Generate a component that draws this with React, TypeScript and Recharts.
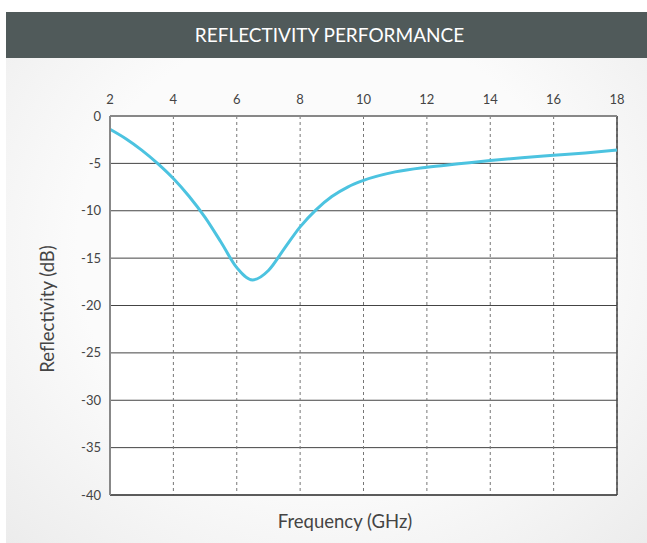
/**
 * Reflectivity performance — reflectivity (dB) against frequency (GHz).
 */

import { LineChart, Line, XAxis, YAxis, CartesianGrid, ReferenceLine } from "recharts";

const freq = [2, 2.5, 3, 3.5, 4, 4.5, 5, 5.5, 6, 6.5, 7, 7.5, 8, 8.5, 9, 9.5, 10, 11, 12, 13, 14, 15, 16, 17, 18];
const reflectivity = [
  -1.4, -2.4, -3.6, -5.0, -6.6, -8.5, -10.7, -13.3, -16.0, -17.3, -16.3, -14.0, -11.7, -9.9, -8.5, -7.5, -6.8,
  -5.9, -5.4, -5.05, -4.7, -4.4, -4.15, -3.9, -3.6,
];
const xTicks = [2, 4, 6, 8, 10, 12, 14, 16, 18];
const yTicks = [0, -5, -10, -15, -20, -25, -30, -35, -40];

const data = freq.map((f, i) => ({ f, r: reflectivity[i] }));

const font = "Lato, 'Open Sans', sans-serif";

export default function App() {
  return (
    <div style={{ position: "absolute", left: 0, top: 0, width: 647, height: 543, background: "#fff", fontFamily: font }}>
      <div
        style={{
          position: "absolute",
          left: 6,
          top: 12,
          width: 641,
          height: 531,
          background: "radial-gradient(ellipse at 50% 45%, #fbfbfb 55%, #ececec 100%)",
        }}
      />
      <div
        style={{
          position: "absolute",
          left: 6,
          top: 12,
          width: 647,
          height: 46,
          background: "#505a5a",
          color: "#fff",
          fontSize: 19,
          lineHeight: "46px",
          textAlign: "center",
        }}
      >
        REFLECTIVITY PERFORMANCE
      </div>
      <div style={{ position: "absolute", left: 0, top: 0 }}>
        <LineChart width={647} height={543} data={data} margin={{ top: 86, right: 30, bottom: 48, left: 70 }}>
          <CartesianGrid vertical={false} stroke="#444" strokeWidth={1} fill="#fff" />
          <CartesianGrid horizontal={false} stroke="#777" strokeDasharray="3 3" />
          <XAxis
            dataKey="f"
            type="number"
            orientation="top"
            domain={[2, 18]}
            ticks={xTicks}
            height={30}
            tickLine={false}
            axisLine={{ stroke: "#888", strokeWidth: 2 }}
            tick={{ fill: "#444", fontSize: 13, fontFamily: font }}
            tickMargin={6}
          />
          <YAxis
            type="number"
            domain={[-40, 0]}
            ticks={yTicks}
            width={40}
            tickLine={false}
            axisLine={{ stroke: "#888", strokeWidth: 2 }}
            tick={{ fill: "#444", fontSize: 13, fontFamily: font }}
            tickMargin={3}
          />
          <ReferenceLine x={18} stroke="#444" strokeWidth={1.5} />
          <ReferenceLine y={-40} stroke="#444" strokeWidth={1.5} />
          <Line
            type="monotone"
            dataKey="r"
            stroke="#4cc3e0"
            strokeWidth={3}
            dot={false}
            isAnimationActive={false}
          />
        </LineChart>
      </div>
      <div
        style={{
          position: "absolute",
          left: 245,
          width: 200,
          top: 510,
          textAlign: "center",
          fontSize: 18.5,
          color: "#444",
        }}
      >
        Frequency (GHz)
      </div>
      <div
        style={{
          position: "absolute",
          left: 47 - 100,
          top: 309 - 12,
          width: 200,
          height: 24,
          lineHeight: "24px",
          textAlign: "center",
          fontSize: 18.5,
          color: "#444",
          transform: "rotate(-90deg)",
        }}
      >
        Reflectivity (dB)
      </div>
    </div>
  );
}
